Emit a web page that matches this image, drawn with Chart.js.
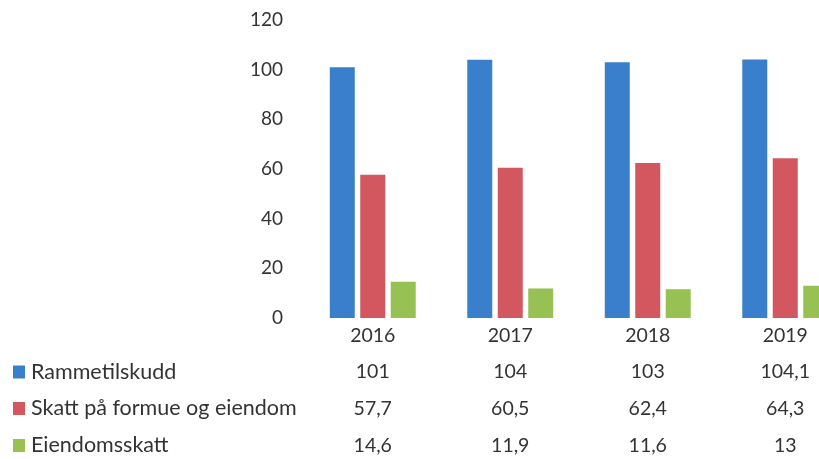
<!DOCTYPE html>
<html><head><meta charset="utf-8">
<script src="https://cdn.jsdelivr.net/npm/chart.js@4/dist/chart.umd.min.js"></script>
<style>
html,body{margin:0;padding:0;background:#fff;overflow:hidden;width:819px;height:459px;}
#wrap{position:relative;width:862px;height:459px;}
</style></head><body>
<div id="wrap"><canvas id="c" width="862" height="459"></canvas></div>
<script>
const categories = ['2016', '2017', '2018', '2019'];
const seriesNames = ['Rammetilskudd', 'Skatt på formue og eiendom', 'Eiendomsskatt'];
const rammetilskudd = [101, 104, 103, 104.1];
const skattFormue = [57.7, 60.5, 62.4, 64.3];
const eiendomsskatt = [14.6, 11.9, 11.6, 13];
const yTicks = [0, 20, 40, 60, 80, 100, 120];
const colors = ['#3a7fcc', '#d2575f', '#97c152'];

const seriesValues = [rammetilskudd, skattFormue, eiendomsskatt];
const FONT = 'Lato, "Open Sans", sans-serif';
const TEXT = '#333333';
const fmt = v => String(v).replace('.', ',');

const tablePlugin = {
  id: 'dataTable',
  afterDraw(chart) {
    const ctx = chart.ctx;
    const xs = chart.scales.x;
    const base = chart.chartArea.bottom;
    const offsets = [54, 90.5, 127.5];
    ctx.save();
    ctx.textBaseline = 'middle';
    seriesNames.forEach((name, i) => {
      const y = base + offsets[i];
      ctx.fillStyle = colors[i];
      ctx.fillRect(13, y - 6.5, 12, 13);
      ctx.fillStyle = TEXT;
      ctx.font = '21.5px ' + FONT;
      ctx.textAlign = 'left';
      ctx.fillText(name, 31, y);
      ctx.font = '19.5px ' + FONT;
      ctx.textAlign = 'center';
      seriesValues[i].forEach((v, j) => {
        ctx.fillText(fmt(v), xs.getPixelForValue(j), y);
      });
    });
    ctx.restore();
  }
};

new Chart(document.getElementById('c'), {
  type: 'bar',
  data: {
    labels: categories,
    datasets: seriesNames.map((n, i) => ({
      label: n,
      data: seriesValues[i],
      backgroundColor: colors[i],
      barPercentage: 0.82,
      categoryPercentage: 0.665
    }))
  },
  options: {
    responsive: false,
    animation: false,
    layout: { padding: { top: 20, right: 8, left: 0, bottom: 0 } },
    plugins: { legend: { display: false }, tooltip: { enabled: false } },
    scales: {
      y: {
        min: 0, max: 120,
        afterFit(s) { s.width = 304; s.paddingTop = 0; s.paddingBottom = 0; },
        afterBuildTicks(s) { s.ticks = yTicks.map(v => ({ value: v })); },
        ticks: { font: { family: FONT, size: 19 }, color: TEXT, padding: 21 },
        grid: { display: false, drawTicks: false },
        border: { display: false }
      },
      x: {
        afterFit(s) { s.height = 141; },
        ticks: { font: { family: FONT, size: 19.5 }, color: TEXT, padding: 6 },
        grid: { display: false, drawTicks: false },
        border: { display: false }
      }
    }
  },
  plugins: [tablePlugin]
});
</script>
</body></html>
